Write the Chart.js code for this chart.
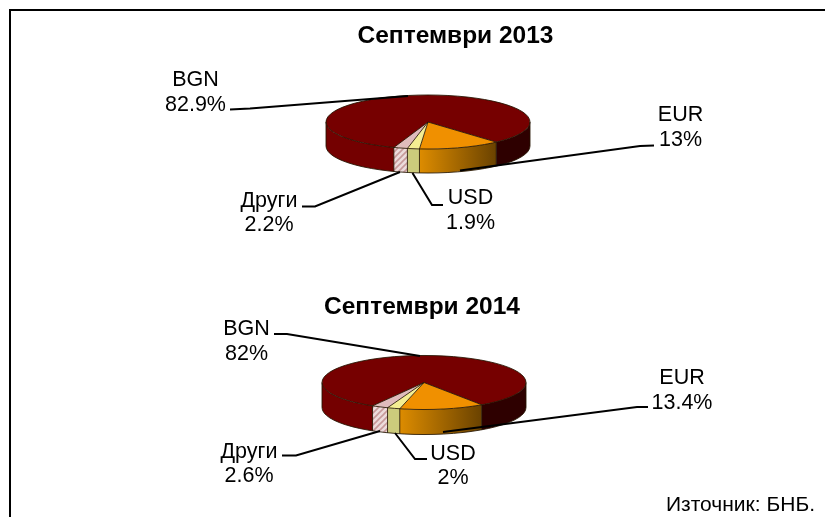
<!DOCTYPE html>
<html>
<head>
<meta charset="utf-8">
<style>
  html, body { margin: 0; padding: 0; background: #fff; overflow: hidden; width: 825px; height: 517px; }
  #frame { position: absolute; left: 9px; top: 9px; width: 830px; height: 530px; border: 2.5px solid #000; box-sizing: border-box; }
  canvas { position: absolute; left: 0; top: 0; }
</style>
<script src="https://cdn.jsdelivr.net/npm/chart.js@4"></script>
</head>
<body>
<div id="frame"></div>
<canvas id="pie2013" width="911" height="517"></canvas>
<canvas id="pie2014" width="844" height="517"></canvas>
<script>
// clockwise from the start of EUR
let categories = ['EUR', 'USD', 'Други', 'BGN']
let values2013 = [13, 1.9, 2.2, 82.9]
let values2014 = [13.4, 2, 2.6, 82]
let title2013 = 'Септември 2013'
let title2014 = 'Септември 2014'
let sourceNote = 'Източник: БНБ.'

let fontName = '"Liberation Sans", Arial, sans-serif'
let labelFont = '21.5px ' + fontName
let topColors = ['#f09000', '#f4ee92', '#dfbcbc', '#760000']

function hatchPattern(ctx){
  let tile = document.createElement('canvas')
  tile.width = 6
  tile.height = 6
  let t = tile.getContext('2d')
  t.fillStyle = '#ecdcdc'
  t.fillRect(0, 0, 6, 6)
  t.strokeStyle = '#c79a9a'
  t.lineWidth = 1.6
  t.beginPath()
  t.moveTo(-1, 7); t.lineTo(7, -1)
  t.moveTo(-1, 1); t.lineTo(1, -1)
  t.moveTo(5, 7); t.lineTo(7, 5)
  t.stroke()
  return ctx.createPattern(tile, 'repeat')
}

// colour for the part of a slice's wall between two x positions
function wallColor(ctx, index, x0, x1, cx){
  if (index === 0) {
    let g = ctx.createLinearGradient(Math.min(x0, x1), 0, Math.max(x0, x1), 0)
    g.addColorStop(0, '#dd8c00')
    g.addColorStop(1, '#6a4200')
    return g
  }
  if (index === 1) return '#cccb7c'
  if (index === 2) return hatchPattern(ctx)
  return x0 > cx ? '#2e0000' : '#740000'
}

// pieces of [a, b] that face the viewer (sin > 0)
function frontParts(a, b){
  let parts = []
  for (let k = -1; k < 3; k++) {
    let lo = Math.max(a, k * 2 * Math.PI)
    let hi = Math.min(b, k * 2 * Math.PI + Math.PI)
    if (hi > lo) parts.push([lo, hi])
  }
  return parts
}

let pie3d = {
  id: 'pie3d',
  beforeDatasetDraw(chart, args, opts){
    let ctx = chart.ctx
    let arcs = chart.getDatasetMeta(0).data
    let rx = arcs[0].outerRadius
    let ry = rx * opts.squash
    // walls first, the library then paints the top face over them
    arcs.forEach(function(arc, i){
      frontParts(arc.startAngle, arc.endAngle).forEach(function(part){
        let x0 = opts.cx + rx * Math.cos(part[0])
        let x1 = opts.cx + rx * Math.cos(part[1])
        ctx.beginPath()
        ctx.ellipse(opts.cx, opts.cy, rx, ry, 0, part[0], part[1])
        ctx.ellipse(opts.cx, opts.cy + opts.depth, rx, ry, 0, part[1], part[0], true)
        ctx.closePath()
        ctx.fillStyle = wallColor(ctx, i, x0, x1, opts.cx)
        ctx.fill()
      })
    })
    ctx.save()
    ctx.translate(opts.cx, opts.cy)
    ctx.scale(1, opts.squash)
    ctx.translate(-arcs[0].x, -arcs[0].y)
  },
  afterDatasetDraw(chart, args, opts){
    let ctx = chart.ctx
    ctx.restore()
    let arcs = chart.getDatasetMeta(0).data
    let rx = arcs[0].outerRadius
    let ry = rx * opts.squash

    // slice outlines
    ctx.strokeStyle = 'rgba(35,20,0,0.85)'
    ctx.lineWidth = 1
    ctx.beginPath()
    ctx.ellipse(opts.cx, opts.cy, rx, ry, 0, 0, 2 * Math.PI)
    ctx.moveTo(opts.cx + rx, opts.cy)
    ctx.lineTo(opts.cx + rx, opts.cy + opts.depth)
    ctx.ellipse(opts.cx, opts.cy + opts.depth, rx, ry, 0, 0, Math.PI)
    ctx.lineTo(opts.cx - rx, opts.cy)
    arcs.forEach(function(arc){
      let x = opts.cx + rx * Math.cos(arc.startAngle)
      let y = opts.cy + ry * Math.sin(arc.startAngle)
      ctx.moveTo(opts.cx, opts.cy)
      ctx.lineTo(x, y)
      if (Math.sin(arc.startAngle) > 0) ctx.lineTo(x, y + opts.depth)
    })
    ctx.stroke()

    // leader lines
    ctx.strokeStyle = '#000'
    ctx.lineWidth = 2
    opts.leaders.forEach(function(points){
      ctx.beginPath()
      points.forEach(function(p, j){
        if (j === 0) ctx.moveTo(p[0], p[1])
        else ctx.lineTo(p[0], p[1])
      })
      ctx.stroke()
    })

    // labels
    ctx.fillStyle = '#000'
    ctx.font = labelFont
    ctx.textAlign = 'center'
    ctx.textBaseline = 'alphabetic'
    let values = chart.data.datasets[0].data
    opts.labels.forEach(function(l, i){
      ctx.fillText(chart.data.labels[i], l[0], l[1])
      ctx.fillText(values[i] + '%', l[0], l[2])
    })
    if (opts.note) {
      ctx.font = '21px ' + fontName
      ctx.textAlign = 'right'
      ctx.fillText(opts.note, 815, 511)
    }
  }
}

function makePie(id, values, title, rotation, titleTop, pieOptions){
  return new Chart(document.getElementById(id), {
    type: 'pie',
    data: {
      labels: categories,
      datasets: [{
        data: values,
        backgroundColor: topColors,
        borderWidth: 0,
        radius: 102,
        clip: false
      }]
    },
    options: {
      responsive: false,
      animation: false,
      rotation: rotation,
      events: [],
      plugins: {
        legend: { display: false },
        tooltip: { enabled: false },
        title: {
          display: true,
          text: title,
          color: '#000',
          font: { family: fontName, size: 24.5, weight: 'bold', lineHeight: 1.2 },
          padding: { top: titleTop, bottom: 0 }
        },
        pie3d: pieOptions
      }
    },
    plugins: [pie3d]
  })
}

makePie('pie2013', values2013, title2013, 138, 22, {
  cx: 428, cy: 122, squash: 0.265, depth: 24,
  labels: [[680.5, 120.5, 146], [470.5, 204, 229], [269, 206.5, 231], [195.5, 86, 110.5]],
  leaders: [
    [[460, 170.5], [640, 146], [654, 145.5]],
    [[412.5, 173], [432, 205], [443, 205]],
    [[400, 172], [315, 206.5], [302, 206.5]],
    [[230, 109.5], [250, 108.5], [408, 96]]
  ]
})

makePie('pie2014', values2014, title2014, 145.5, 293, {
  cx: 424, cy: 382.5, squash: 0.265, depth: 25,
  labels: [[682, 384, 408.5], [453, 460, 484], [249, 457.5, 481.5], [246.5, 335, 360]],
  leaders: [
    [[443, 432], [637, 407], [648, 407]],
    [[395, 433], [415, 459], [427, 459]],
    [[380, 431], [296, 455.5], [282, 455.5]],
    [[274, 334], [287, 334], [420, 356]]
  ],
  note: sourceNote
})
</script>
</body>
</html>
